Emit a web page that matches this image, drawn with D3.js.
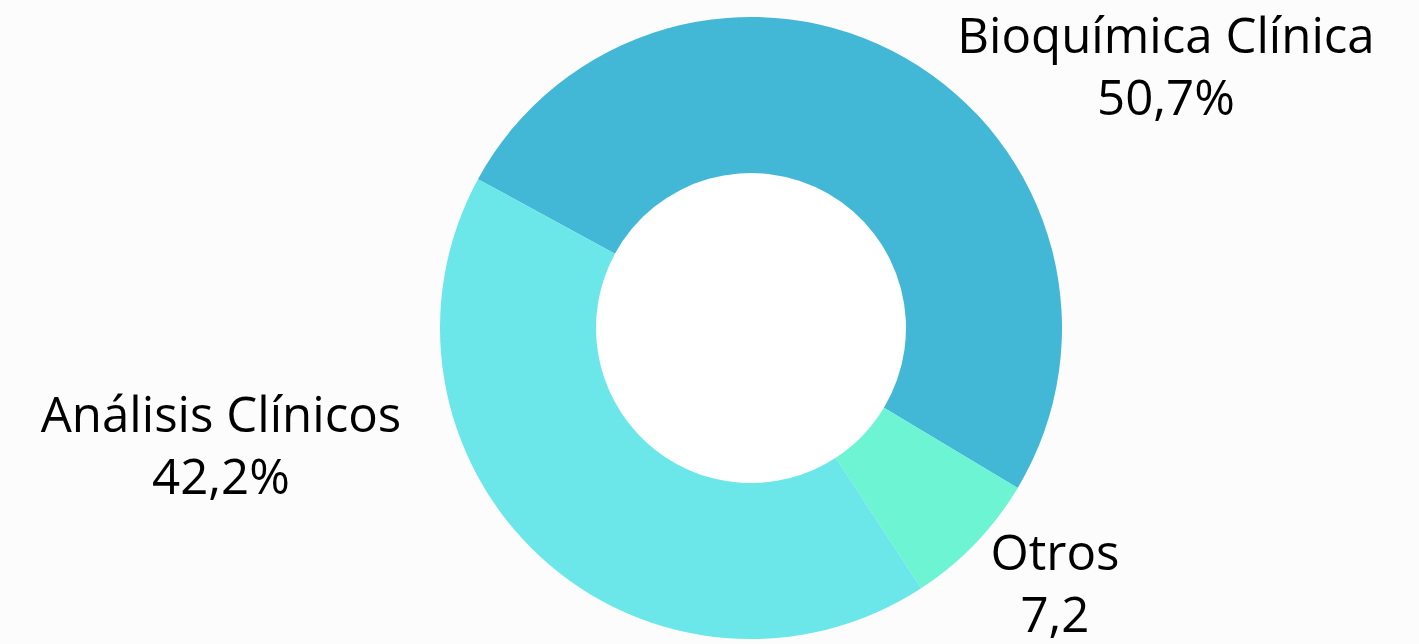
<!DOCTYPE html>
<html><head><meta charset="utf-8">
<script src="https://cdn.jsdelivr.net/npm/d3@7"></script>
<style>html,body{margin:0;padding:0;background:#fdfcfd;}</style>
</head><body>
<svg id="c" width="1419" height="644"></svg>
<script>
const categories = ["Bioquímica Clínica", "Otros", "Análisis Clínicos"];
const values = [50.7, 7.2, 42.2];
const valueLabels = ["50,7%", "7,2", "42,2%"];
const colors = ["#43b8d6", "#6cf4d3", "#6be6e9"];

const svg = d3.select("#c");
const cx = 751, cy = 328, R = 311, r = 155;
const startA = -61.4 * Math.PI / 180;
const pie = d3.pie().sort(null).value(d => d).startAngle(startA).endAngle(startA + 2 * Math.PI);
const arc = d3.arc().innerRadius(r).outerRadius(R);
const g = svg.append("g").attr("transform", `translate(${cx},${cy})`);
g.append("circle").attr("r", r).attr("fill", "#ffffff");
g.selectAll("path").data(pie(values)).join("path")
  .attr("d", arc).attr("fill", (d, i) => colors[i]);

// label anchor positions (center of text block, first baseline)
const labelPos = [[1166, 53], [1055, 570], [221, 432]];
const lab = svg.append("g").attr("font-family", "'Open Sans', sans-serif").attr("font-size", 49.2).attr("fill", "#000");
categories.forEach((c, i) => {
  const t = lab.append("text").attr("text-anchor", "middle")
    .attr("x", labelPos[i][0]).attr("y", labelPos[i][1]);
  t.append("tspan").attr("x", labelPos[i][0]).text(c);
  t.append("tspan").attr("x", labelPos[i][0]).attr("dy", 62).text(valueLabels[i]);
});
</script>
</body></html>
